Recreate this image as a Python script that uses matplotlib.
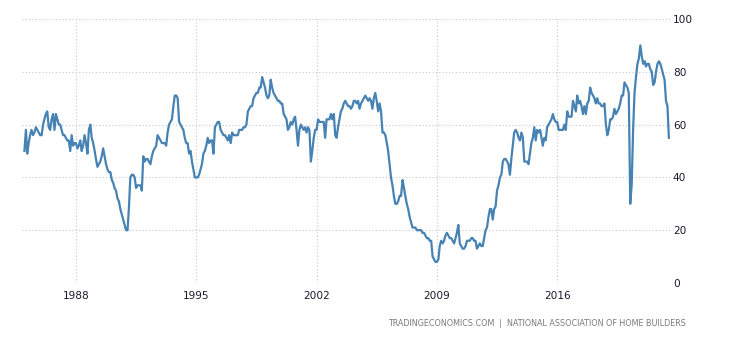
#!/usr/bin/env python

import matplotlib
matplotlib.use('Agg')
import matplotlib.pyplot as plt
import matplotlib.dates as mdates
import numpy as np
import pandas as pd

matplotlib.rc('font', family='DejaVu Sans', size=7)

# NAHB housing market index, monthly, Jan 1985 - Jul 2022
hmi = [
    50, 58, 49, 53, 56, 58, 56, 57, 59, 58, 57, 56,   # 1985
    56, 60, 62, 64, 65, 59, 58, 62, 64, 58, 64, 62,   # 1986
    60, 60, 58, 56, 56, 55, 54, 54, 50, 56, 52, 53,   # 1987
    53, 51, 52, 54, 50, 52, 56, 53, 49, 58, 60, 55,   # 1988
    53, 50, 47, 44, 45, 46, 48, 51, 48, 45, 43, 42,   # 1989
    42, 39, 38, 36, 35, 32, 31, 28, 26, 24, 22, 20,   # 1990
    20, 29, 40, 41, 41, 40, 36, 37, 37, 37, 35, 48,   # 1991
    46, 47, 47, 46, 45, 48, 50, 51, 52, 56, 55, 54,   # 1992
    53, 53, 53, 52, 57, 60, 61, 62, 67, 71, 71, 70,   # 1993
    61, 60, 59, 58, 55, 53, 53, 49, 50, 46, 43, 40,   # 1994
    40, 40, 41, 43, 45, 49, 50, 52, 55, 53, 54, 54,   # 1995
    49, 59, 60, 61, 61, 58, 57, 56, 56, 55, 54, 56,   # 1996
    53, 57, 56, 56, 56, 56, 58, 58, 58, 59, 59, 60,   # 1997
    65, 66, 67, 67, 70, 71, 72, 72, 74, 74, 78, 76,   # 1998
    74, 71, 70, 71, 77, 74, 72, 71, 70, 69, 69, 68,   # 1999
    68, 64, 63, 62, 58, 59, 61, 60, 62, 63, 58, 52,   # 2000
    58, 60, 59, 58, 59, 57, 59, 58, 46, 50, 55, 58,   # 2001
    58, 62, 61, 61, 61, 61, 55, 62, 62, 62, 64, 62,   # 2002
    64, 56, 55, 59, 62, 65, 66, 68, 69, 68, 67, 67,   # 2003
    66, 67, 69, 69, 68, 69, 66, 68, 69, 70, 71, 70,   # 2004
    69, 70, 69, 66, 70, 72, 69, 65, 68, 65, 57, 57,   # 2005
    56, 53, 50, 45, 40, 37, 33, 30, 30, 31, 33, 33,   # 2006
    39, 36, 33, 30, 28, 25, 23, 21, 21, 21, 20, 20,   # 2007
    20, 20, 19, 19, 18, 17, 17, 16, 16, 10, 9, 8,     # 2008
    8, 9, 14, 16, 15, 16, 18, 19, 18, 17, 17, 16,     # 2009
    15, 17, 19, 22, 15, 14, 13, 13, 14, 16, 16, 16,   # 2010
    17, 17, 16, 16, 13, 14, 15, 14, 14, 17, 20, 21,   # 2011
    25, 28, 28, 24, 28, 29, 35, 37, 40, 41, 46, 47,   # 2012
    47, 46, 45, 41, 47, 52, 57, 58, 57, 55, 54, 57,   # 2013
    55, 46, 46, 46, 45, 49, 53, 55, 59, 54, 58, 57,   # 2014
    58, 55, 52, 55, 54, 59, 60, 61, 62, 64, 62, 61,   # 2015
    61, 58, 58, 58, 58, 60, 58, 65, 63, 63, 63, 69,   # 2016
    67, 65, 71, 68, 69, 67, 64, 67, 64, 68, 69, 74,   # 2017
    72, 71, 70, 68, 70, 68, 68, 67, 67, 68, 60, 56,   # 2018
    58, 62, 62, 63, 66, 64, 65, 66, 68, 71, 71, 76,   # 2019
    75, 74, 72, 30, 37, 58, 72, 78, 83, 85, 90, 86,   # 2020
    83, 84, 82, 83, 83, 81, 80, 75, 76, 80, 83, 84,   # 2021
    83, 81, 79, 77, 69, 67, 55,                       # 2022
]
dates = pd.date_range('1985-01-01', periods=len(hmi), freq='MS')

tick_years = [1988, 1995, 2002, 2009, 2016]
yticks = [0, 20, 40, 60, 80, 100]

fig = plt.figure(figsize=(7.3, 3.4), dpi=100)
ax = fig.add_axes([22/730, 1 - 283/340, 648/730, 264/340])

ax.plot(dates, hmi, color='#4682b4', lw=1.6, solid_joinstyle='round')

ax.set_xlim(pd.Timestamp('1984-11-10'), pd.Timestamp('2022-07-25'))
ax.set_ylim(0, 100)
ax.set_xticks([pd.Timestamp(f'{y}-01-01') for y in tick_years])
ax.xaxis.set_major_formatter(mdates.DateFormatter('%Y'))
ax.set_yticks(yticks)
ax.yaxis.tick_right()

ax.tick_params(axis='both', length=0, labelsize=7.6, colors='#1a1a2e')
ax.tick_params(axis='x', pad=6)
ax.tick_params(axis='y', pad=2)

ax.grid(True, color='#c8c8c8', linestyle=(0, (1, 2)), lw=0.8)
ax.set_axisbelow(True)
for s in ax.spines.values():
    s.set_visible(False)

fig.text(686/730, 1 - 324/340,
         'TRADINGECONOMICS.COM  |  NATIONAL ASSOCIATION OF HOME BUILDERS',
         ha='right', va='center', fontsize=5.8, color='#7a7a7a')

fig.savefig('out.png', dpi=100)
